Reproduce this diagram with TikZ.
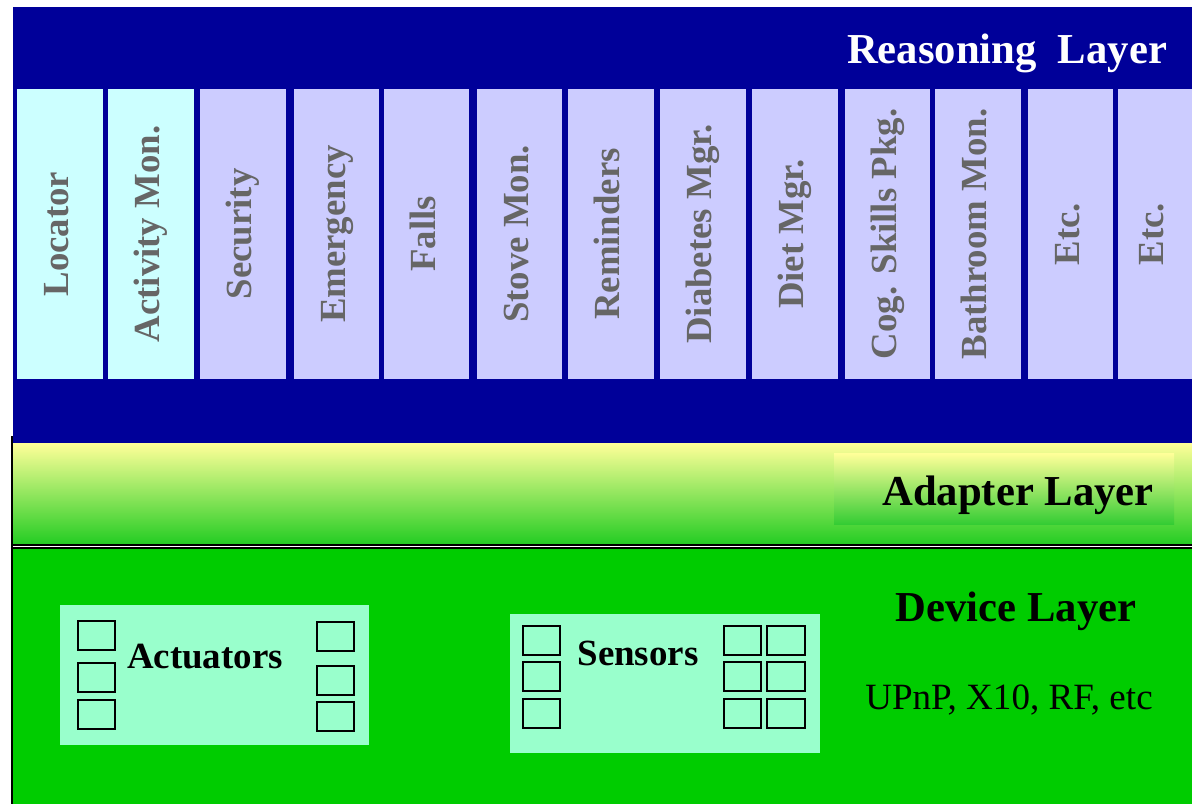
\documentclass[tikz,border=0pt]{standalone}
\usepackage{fontspec}
\setmainfont{Liberation Serif}
\definecolor{reasonblue}{HTML}{000099}
\definecolor{modcyan}{HTML}{CCFFFF}
\definecolor{modlav}{HTML}{CCCCFF}
\definecolor{modtext}{HTML}{666666}
\definecolor{adtop}{HTML}{FFFF99}
\definecolor{adbot}{HTML}{22CC22}
\definecolor{adboxbot}{HTML}{33CC33}
\definecolor{devgreen}{HTML}{00CC00}
\definecolor{devmint}{HTML}{99FFCC}
\tikzset{
  module/.style={rotate=90, minimum width=217.5pt, inner sep=0pt, text=modtext,
    text height=19pt, text depth=6pt,
    font=\fontsize{27.6}{30}\selectfont\bfseries},
  layertitle/.style={inner sep=0pt, font=\fontsize{32}{36}\selectfont\bfseries},
  devpanel/.style={fill=devmint, inner sep=0pt},
  devlabel/.style={inner sep=0pt, font=\fontsize{27.7}{30}\selectfont\bfseries},
  slot/.style={line width=1pt},
}
\begin{document}
\begin{tikzpicture}[x=0.75pt, y=-0.75pt]
\useasboundingbox (0,0) rectangle (1192,804);
% reasoning layer
\fill[reasonblue] (13,7) rectangle (1192,443);
\node[layertitle, text=white] (reasoning) at (1007,53) {Reasoning\ \ Layer};
\foreach \nm/\xl/\xr/\clr/\lab in {loc/17/103/modcyan/Locator, act/108/194/modcyan/Activity Mon.,
  sec/200/286/modlav/Security, emg/294/379/modlav/Emergency, fal/384/469/modlav/Falls,
  stv/477/562/modlav/Stove Mon., rem/568/654/modlav/Reminders, dia/660/746/modlav/Diabetes Mgr.,
  die/752/838/modlav/Diet Mgr., cog/845/930/modlav/Cog. Skills Pkg., bath/935/1021/modlav/Bathroom Mon.,
  etca/1028/1113/modlav/Etc., etcb/1118/1192/modlav/Etc.}{
  \pgfmathsetmacro{\w}{(\xr-\xl)*0.75}
  \node[module, fill=\clr, minimum height=\w pt] (\nm) at ({(\xl+\xr)/2},234) {\lab};
}
% adapter layer
\shade[top color=adtop, bottom color=adbot] (12,443) rectangle (1192,545);
\node[shade, top color=adtop, bottom color=adboxbot, minimum width=255pt, minimum height=53.25pt, inner sep=0pt] (adapterbox) at (1004,489) {};
\node[layertitle] (adapter) at (1018,495) {Adapter Layer};
% device layer
\fill[devgreen] (12,548) rectangle (1192,804);
\draw[line width=1pt] (12,545) -- (1192,545);
\draw[line width=1pt] (12,548) -- (1192,548);
\draw[line width=1pt] (12,436) -- (12,804);
\node[layertitle] (device) at (1016,611) {Device Layer};
\node[inner sep=0pt, font=\fontsize{27.8}{30}\selectfont] (proto) at (1009,700) {UPnP, X10, RF, etc};
\node[devpanel, minimum width=231.75pt, minimum height=105pt] (actbox) at (214.5,675) {};
\node[devlabel] (actuators) at (205,657) {Actuators};
\foreach \y in {621,663,700}
  \draw[slot] (78,\y) rectangle +(37,29);
\foreach \y in {622,666,702}
  \draw[slot] (317,\y) rectangle +(37,29);
\node[devpanel, minimum width=232.5pt, minimum height=104.25pt] (senbox) at (665,683.5) {};
\node[devlabel] (sensors) at (638,653) {Sensors};
\foreach \y in {626,662,699}{
  \draw[slot] (523,\y) rectangle +(37,29);
  \draw[slot] (724,\y) rectangle +(37,29);
  \draw[slot] (767,\y) rectangle +(38,29);
}
\end{tikzpicture}
\end{document}
